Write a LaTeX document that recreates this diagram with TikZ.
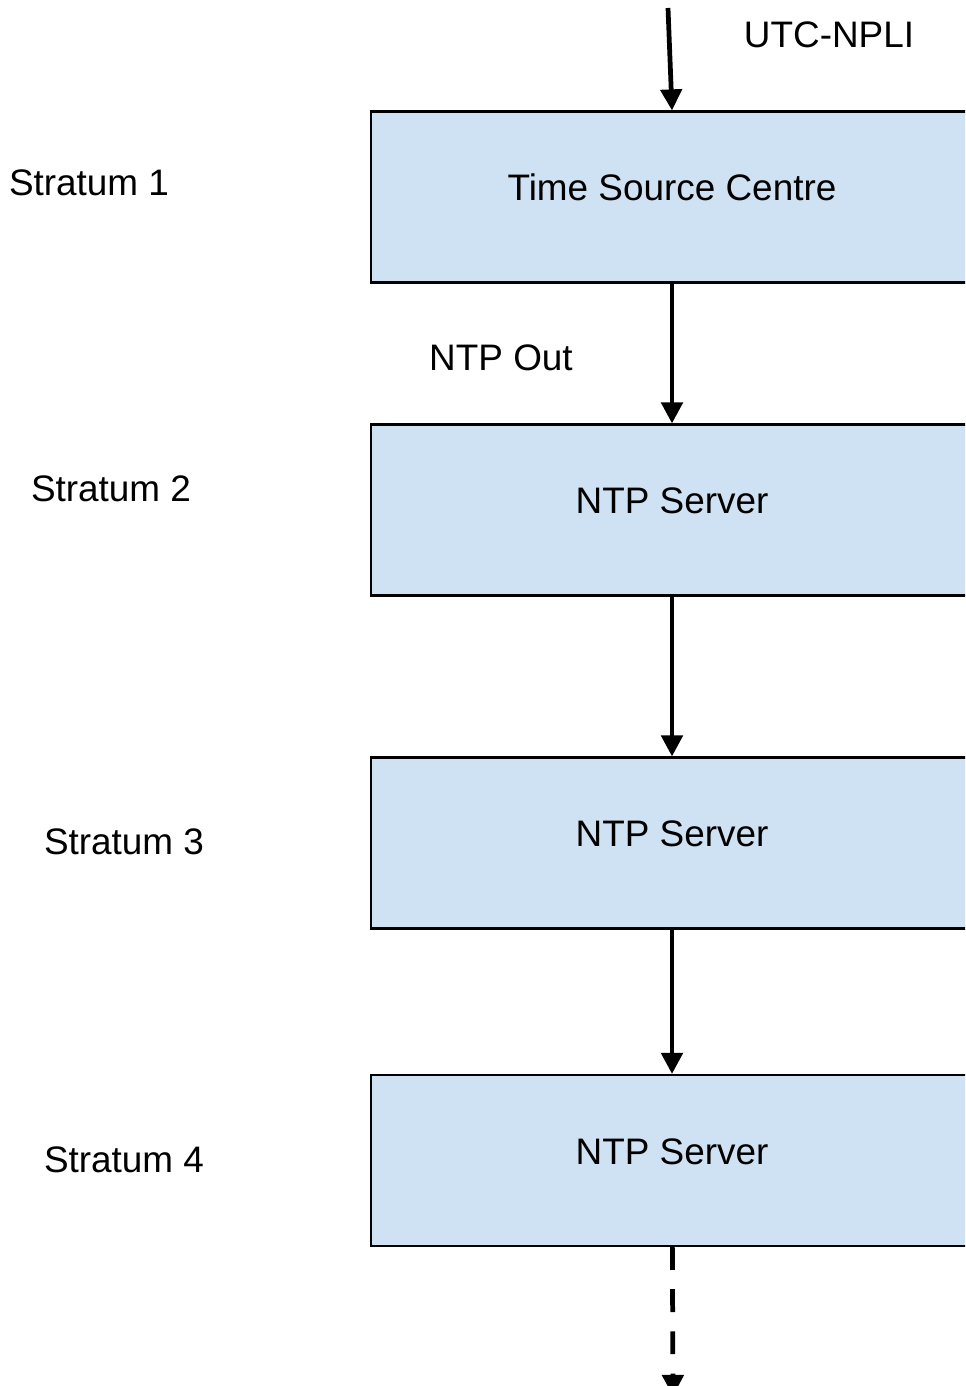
\documentclass[tikz,border=0pt]{standalone}
\usepackage{fontspec}
\setmainfont{Liberation Sans}
\usepackage{tikz}
\usetikzlibrary{arrows.meta}
\definecolor{boxblue}{HTML}{CFE2F3}
\tikzstyle{box} = [draw=black, line width=1.2pt, fill=boxblue, minimum width=12.04cm, minimum height=3.42cm, text height=15pt, text depth=11pt, font=\fontsize{21}{25}\selectfont]
\tikzstyle{lab} = [font=\fontsize{21}{25}\selectfont]
\tikzstyle{flow} = [line width=2.7pt, -{Triangle[length=12pt,width=12pt]}]

\begin{document}
\begin{tikzpicture}[x=0.02cm, y=-0.02cm]
  \useasboundingbox (0,0) rectangle (965,1386);
  \clip (0,0) rectangle (965,1386);
  \node (a) at (672,197) [box] {Time Source Centre};
  \node (b) at (672,510) [box] {NTP Server};
  \node (c) at (672,843) [box] {NTP Server};
  \node (d) at (672,1160.5) [box] {NTP Server};
  \node (s1) at (89,183) [lab] {Stratum 1};
  \node (s2) at (111,489) [lab] {Stratum 2};
  \node (s3) at (124,842) [lab] {Stratum 3};
  \node (s4) at (124,1160) [lab] {Stratum 4};
  \node (utc) at (829,35) [lab] {UTC-NPLI};
  \node (out) at (501,358) [lab] {NTP Out};
  \coordinate (in) at (668,8);
  \coordinate (down) at (673,1396);
  \draw [flow] (in) to (a.north);
  \draw [flow] (a) to (b);
  \draw [flow] (b) to (c);
  \draw [flow] (c) to (d);
  \draw [flow, dash pattern=on 13pt off 11pt] (d) to (down);
\end{tikzpicture}
\end{document}
